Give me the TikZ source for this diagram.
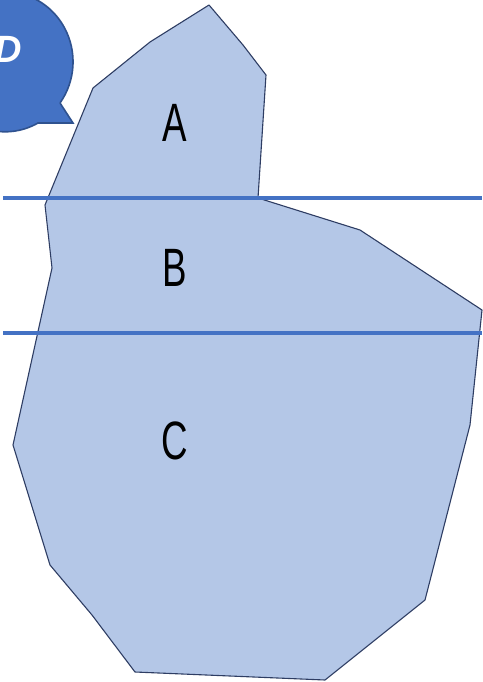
\documentclass[tikz,border=0pt]{standalone}
\usepackage{fontspec}
\setmainfont{Liberation Sans}
\definecolor{regionfill}{HTML}{B4C7E7}
\definecolor{regionedge}{HTML}{2E3D63}
\definecolor{cutline}{HTML}{4472C4}
\definecolor{bubblefill}{HTML}{4472C4}
\definecolor{bubbleedge}{HTML}{2F528F}
\tikzset{
  region/.style={fill=regionfill, draw=regionedge, line width=1.1pt, line join=round},
  cut/.style={draw=cutline, line width=3.8pt},
  lbl/.style={font=\fontsize{54}{54}\selectfont, xscale=0.68, text=black, inner sep=0pt},
  bubble/.style={fill=bubblefill, draw=bubbleedge, line width=1.6pt, line join=miter}
}
\begin{document}
\begin{tikzpicture}[x=1pt,y=-1pt]
\useasboundingbox (0,0) rectangle (482,682);
% region outline
\draw[region] (209,5) -- (243,45) -- (266,75) -- (258,198) -- (360,230) -- (482,310)
  -- (470,425) -- (425,600) -- (325,680) -- (135,672) -- (92,615) -- (50,565)
  -- (13,445) -- (52,268) -- (45,205) -- (93,88) -- (150,42) -- cycle;
% cut lines
\coordinate (l1a) at (3,198);
\coordinate (l1b) at (482,198);
\coordinate (l2a) at (3,333);
\coordinate (l2b) at (482,333);
\draw[cut] (l1a) -- (l1b);
\draw[cut] (l2a) -- (l2b);
% labels
\node[lbl] (A) at (175,123) {A};
\node[lbl] (B) at (175,268) {B};
\node[lbl] (C) at (175,441) {C};
% speech bubble
\draw[bubble] (60,103) -- (73,123) -- (38,123)
  arc[start angle=61, end angle=396, x radius=68, y radius=70];
\node[text=white, font=\fontsize{38}{38}\selectfont\bfseries\itshape, anchor=east, inner sep=0pt] (D) at (22,49) {D};
\end{tikzpicture}
\end{document}
